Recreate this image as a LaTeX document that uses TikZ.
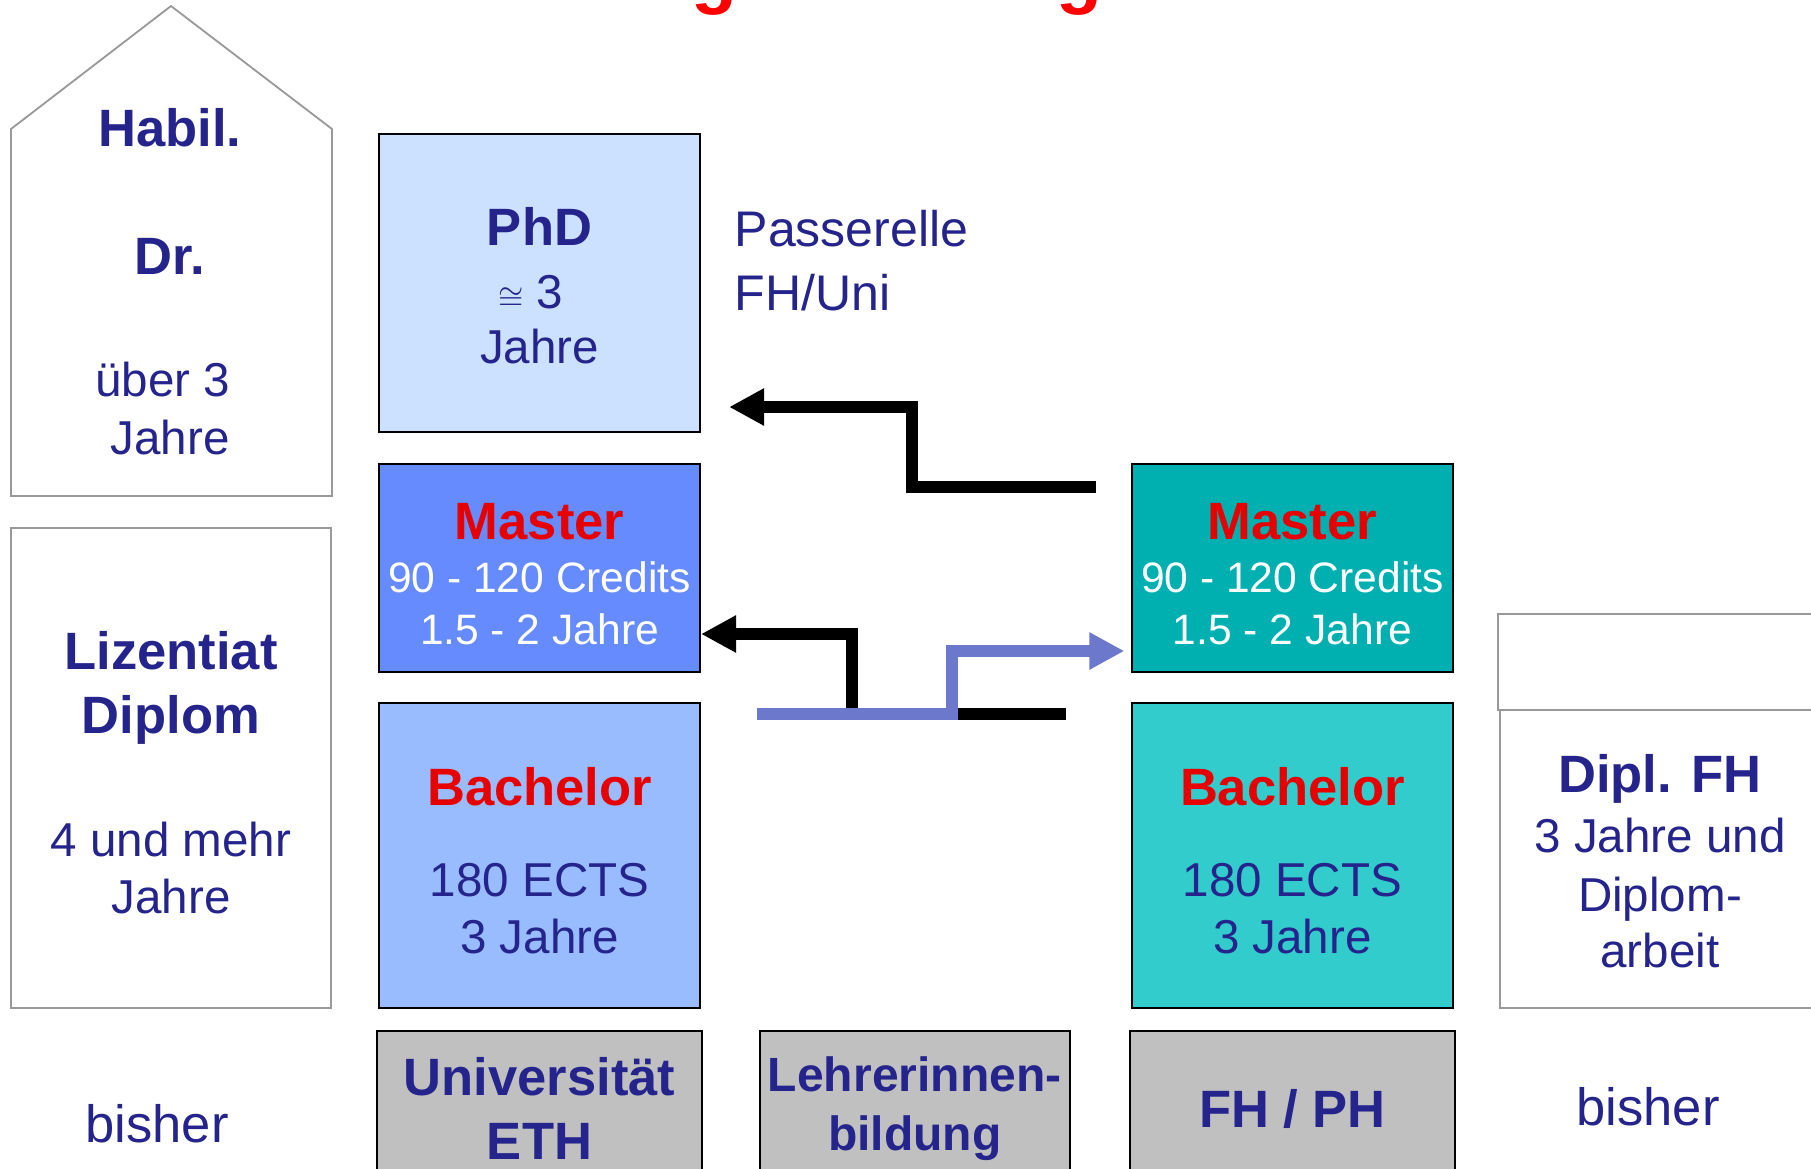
\documentclass[tikz,border=0pt]{standalone}
\usepackage{fontspec}
\setmainfont{Liberation Sans}
\usetikzlibrary{arrows.meta}

\definecolor{txtblue}{RGB}{36,36,140}
\definecolor{hdred}{RGB}{230,0,0}
\definecolor{oldgray}{RGB}{153,153,153}
\definecolor{phdfill}{RGB}{204,224,255}
\definecolor{mlfill}{RGB}{102,139,255}
\definecolor{blfill}{RGB}{153,187,255}
\definecolor{mrfill}{RGB}{0,176,176}
\definecolor{brfill}{RGB}{51,204,204}
\definecolor{schoolgray}{RGB}{192,192,192}
\definecolor{passblue}{RGB}{107,120,204}

\newcommand{\fHead}{\fontsize{14.94pt}{16pt}\selectfont\bfseries}
\newcommand{\fBody}{\fontsize{13.52pt}{16pt}\selectfont}
\newcommand{\fSmall}{\fontsize{12.1pt}{16pt}\selectfont}
\newcommand{\fPlain}{\fontsize{14.94pt}{16pt}\selectfont}
\newcommand{\fPass}{\fontsize{14.23pt}{16pt}\selectfont}
\newcommand{\fLehr}{\fontsize{13.66pt}{16pt}\selectfont\bfseries}
\newcommand{\fTitle}{\fontsize{21.34pt}{24pt}\selectfont\bfseries}
\newcommand{\topgap}[1]{\rule{0pt}{#1}}

\begin{document}
\begin{tikzpicture}[x=0.01cm, y=-0.01cm,
box/.style={draw=black, line width=0.02cm, inner sep=0pt, align=center, text=txtblue, font=\fBody},
oldbox/.style={draw=oldgray, line width=0.018cm, inner sep=0pt, align=center, text=txtblue, font=\fBody},
txt/.style={inner sep=0pt, align=center, text=txtblue, font=\fBody},
route/.style={line width=0.12cm, -{Triangle[length=0.35cm, width=0.35cm]}}
]

\useasboundingbox[fill=white] (0,0) rectangle (1811,1169);

%Title
\node[txt, text=red, font=\fTitle, anchor=base] (g1) at (714.5,-1) {g};
\node[txt, text=red, font=\fTitle, anchor=base] (g2) at (1079.5,-1) {g};

%Old system
\draw[oldgray, line width=0.018cm] (11,496) -- (11,129) -- (171,6) -- (332,129) -- (332,496) -- cycle;
\node[txt]    (habil)  at (170,282)   {{\fHead Habil.}\\[20.42pt] {\fHead Dr.}\\[18.71pt] über 3\kern4pt\\[0.5pt] Jahre};
\node[oldbox, minimum width=3.2cm, minimum height=4.8cm] (liz) at (171,768)
      {\topgap{13.5pt}{\fHead Lizentiat}\\[2.21pt] {\fHead Diplom}\\[18.71pt] 4 und mehr\\[0.22pt] Jahre};
\node[txt, font=\fPlain, anchor=base] (bisherL) at (157,1142) {bisher};

%New system
\node[box, fill=phdfill, minimum width=3.21cm, minimum height=2.98cm] (phd) at (539.5,283)
      {\topgap{12.3pt}{\fHead PhD}\\[1.9pt] {\fontsize{9.5pt}{16pt}\selectfont$\cong$} 3\kern5pt\\[-0.15pt] Jahre};
\node[box, fill=mlfill, text=white, font=\fSmall, minimum width=3.21cm, minimum height=2.08cm] (mL) [below of = phd, yshift=-1.85cm]
      {\topgap{13.6pt}{\fHead\color{hdred}Master}\\[-0.76pt] 90 - 120 Credits\\[-1.19pt] 1.5 - 2 Jahre};
\node[box, fill=blfill, minimum width=3.21cm, minimum height=3.05cm] (bL) [below of = mL, yshift=-1.875cm]
      {\topgap{13.5pt}{\fHead\color{hdred}Bachelor}\\[9.89pt] 180 ECTS\\ 3 Jahre};
\node[box, fill=mrfill, text=white, font=\fSmall, minimum width=3.2cm, minimum height=2.08cm] (mR) [right of = mL, xshift=6.525cm]
      {\topgap{13.6pt}{\fHead\color{hdred}Master}\\[-0.76pt] 90 - 120 Credits\\[-1.19pt] 1.5 - 2 Jahre};
\node[box, fill=brfill, minimum width=3.2cm, minimum height=3.05cm] (bR) [below of = mR, yshift=-1.875cm]
      {\topgap{13.5pt}{\fHead\color{hdred}Bachelor}\\[9.89pt] 180 ECTS\\ 3 Jahre};
\node[txt, font=\fPass, align=left, anchor=north west] (pass) at (734,209.7) {Passerelle\\[2.07pt] FH/Uni};

%Old FH
\node[oldbox, minimum width=3.22cm, minimum height=0.96cm] (dtop) at (1659,662) {};
\node[oldbox, minimum width=3.2cm, minimum height=2.98cm] (dfh) at (1660,859)
      {\topgap{12pt}{\fHead Dipl. FH}\\[1.16pt] 3 Jahre und\\[0.65pt] Diplom-\\[-0.12pt] arbeit};
\node[txt, font=\fPlain, anchor=base] (bisherR) at (1648,1125) {bisher};

%Schools
\node[box, fill=schoolgray, font=\fHead, minimum width=3.24cm, minimum height=1.54cm] (uni) [below of = bL, yshift=-1.525cm] {Universität\\[2.21pt] ETH};
\node[box, fill=schoolgray, font=\fLehr, minimum width=3.1cm, minimum height=1.54cm] (lehr) [right of = uni, xshift=2.75cm] {Lehrerinnen-\\[0.62pt] bildung};
\node[box, fill=schoolgray, font=\fHead, minimum width=3.24cm, minimum height=1.54cm] (fhph) [right of = lehr, xshift=2.775cm] {FH / PH};

%Lines
\coordinate (pA) at (1096,487);
\coordinate (pB) at (912,407);
\coordinate (pC) at (1066,714);
\coordinate (pD) at (852,634);
\coordinate (pE) at (757,714);
\coordinate (pF) at (952,651);
\draw[route, shorten >=0.28cm] (pA) -| (pB) -- (pB -| phd.east);
\draw[route] (pC) -| (pD) -- (pD -| mL.east);
\draw[route, passblue, shorten >=0.07cm] (pE) -| (pF) -- (pF -| mR.west);
\end{tikzpicture}
\end{document}
